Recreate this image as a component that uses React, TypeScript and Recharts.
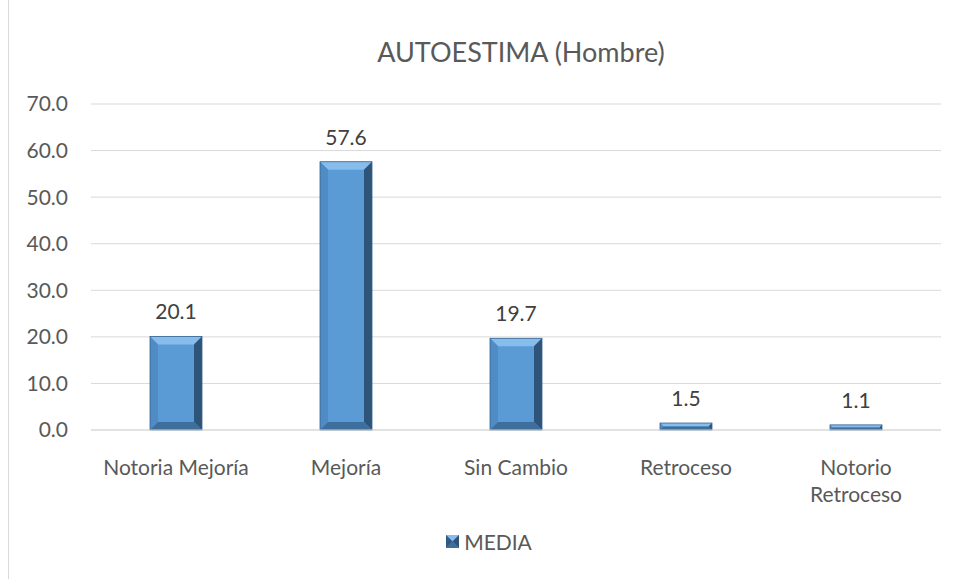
import React from "react";
import { BarChart, Bar, XAxis, YAxis, CartesianGrid, Legend, LabelList } from "recharts";

const categories = ["Notoria Mejoría", "Mejoría", "Sin Cambio", "Retroceso", "Notorio\nRetroceso"];
const media = [20.1, 57.6, 19.7, 1.5, 1.1];
const yTicks = [0, 10, 20, 30, 40, 50, 60, 70];

const data = categories.map((name, i) => ({ name, MEDIA: media[i] }));

const FONT = "Lato, 'Open Sans', sans-serif";
const TEXT = "#595959";

// bevelled bar like the Excel "soft edge" style
function BevelBar(props: any) {
  const { x, y, width, height } = props;
  if (!height || height <= 0) return null;
  const b = Math.min(8, width / 2, height / 2);
  const x2 = x + width;
  const y2 = y + height;
  return (
    <g>
      <rect x={x} y={y} width={width} height={height} fill="#5b9bd5" />
      <polygon points={`${x},${y} ${x2},${y} ${x2 - b},${y + b} ${x + b},${y + b}`} fill="#86bdec" />
      <polygon points={`${x},${y} ${x + b},${y + b} ${x + b},${y2 - b} ${x},${y2}`} fill="#4f8bc4" />
      <polygon points={`${x2},${y} ${x2},${y2} ${x2 - b},${y2 - b} ${x2 - b},${y + b}`} fill="#2e5479" />
      <polygon points={`${x},${y2} ${x + b},${y2 - b} ${x2 - b},${y2 - b} ${x2},${y2}`} fill="#3d6e9c" />
      <rect x={x} y={y} width={width} height={height} fill="none" stroke="#36638e" strokeWidth={0.8} />
    </g>
  );
}

function CatTick(props: any) {
  const { x, y, payload } = props;
  const lines = String(payload.value).split("\n");
  return (
    <text x={x} y={y} textAnchor="middle" fill={TEXT} fontFamily={FONT} fontSize={21}>
      {lines.map((l, i) => (
        <tspan key={i} x={x} dy={i === 0 ? 37 : 27}>
          {l}
        </tspan>
      ))}
    </text>
  );
}

function LegendBox() {
  return (
    <div style={{ display: "flex", justifyContent: "center", alignItems: "center", fontFamily: FONT, fontSize: 21, color: TEXT, paddingLeft: 28 }}>
      <svg width={13} height={13} style={{ marginRight: 5 }}>
        <rect x={0} y={0} width={13} height={13} fill="#5b9bd5" />
        <polygon points="0,0 13,0 6.5,6.5" fill="#86bdec" />
        <polygon points="13,0 13,13 6.5,6.5" fill="#2e5479" />
        <polygon points="0,13 13,13 6.5,6.5" fill="#3d6e9c" />
        <polygon points="0,0 0,13 6.5,6.5" fill="#2f5a86" />
      </svg>
      <span>MEDIA</span>
    </div>
  );
}

export default function App() {
  return (
    <div
      style={{
        position: "absolute",
        left: 8,
        top: 0,
        width: 947,
        height: 579,
        borderLeft: "1px solid #d9d9d9",
        background: "#fff",
      }}
    >
      <div
        style={{
          position: "absolute",
          left: 0,
          top: 35,
          width: 1024,
          textAlign: "center",
          fontFamily: FONT,
          fontSize: 27,
          color: TEXT,
        }}
      >
        AUTOESTIMA (Hombre)
      </div>
      <BarChart width={947} height={579} data={data} margin={{ top: 104, right: 15, left: 0, bottom: 20 }}>
        <CartesianGrid vertical={false} stroke="#d9d9d9" />
        <XAxis
          dataKey="name"
          height={99}
          axisLine={{ stroke: "#d9d9d9" }}
          tickLine={false}
          interval={0}
          tick={<CatTick />}
        />
        <YAxis
          width={82}
          domain={[0, 70]}
          ticks={yTicks}
          axisLine={false}
          tickLine={false}
          tickSize={0}
          tickMargin={23}
          tickFormatter={(v: number) => v.toFixed(1)}
          tick={{ fill: TEXT, fontSize: 21, fontFamily: FONT }}
        />
        <Legend verticalAlign="bottom" height={30} content={<LegendBox />} />
        <Bar dataKey="MEDIA" barSize={52} shape={<BevelBar />} isAnimationActive={false}>
          <LabelList
            dataKey="MEDIA"
            position="top"
            offset={17}
            formatter={(v: any) => Number(v).toFixed(1)}
            style={{ fill: "#404040", fontSize: 21, fontFamily: FONT }}
          />
        </Bar>
      </BarChart>
    </div>
  );
}
